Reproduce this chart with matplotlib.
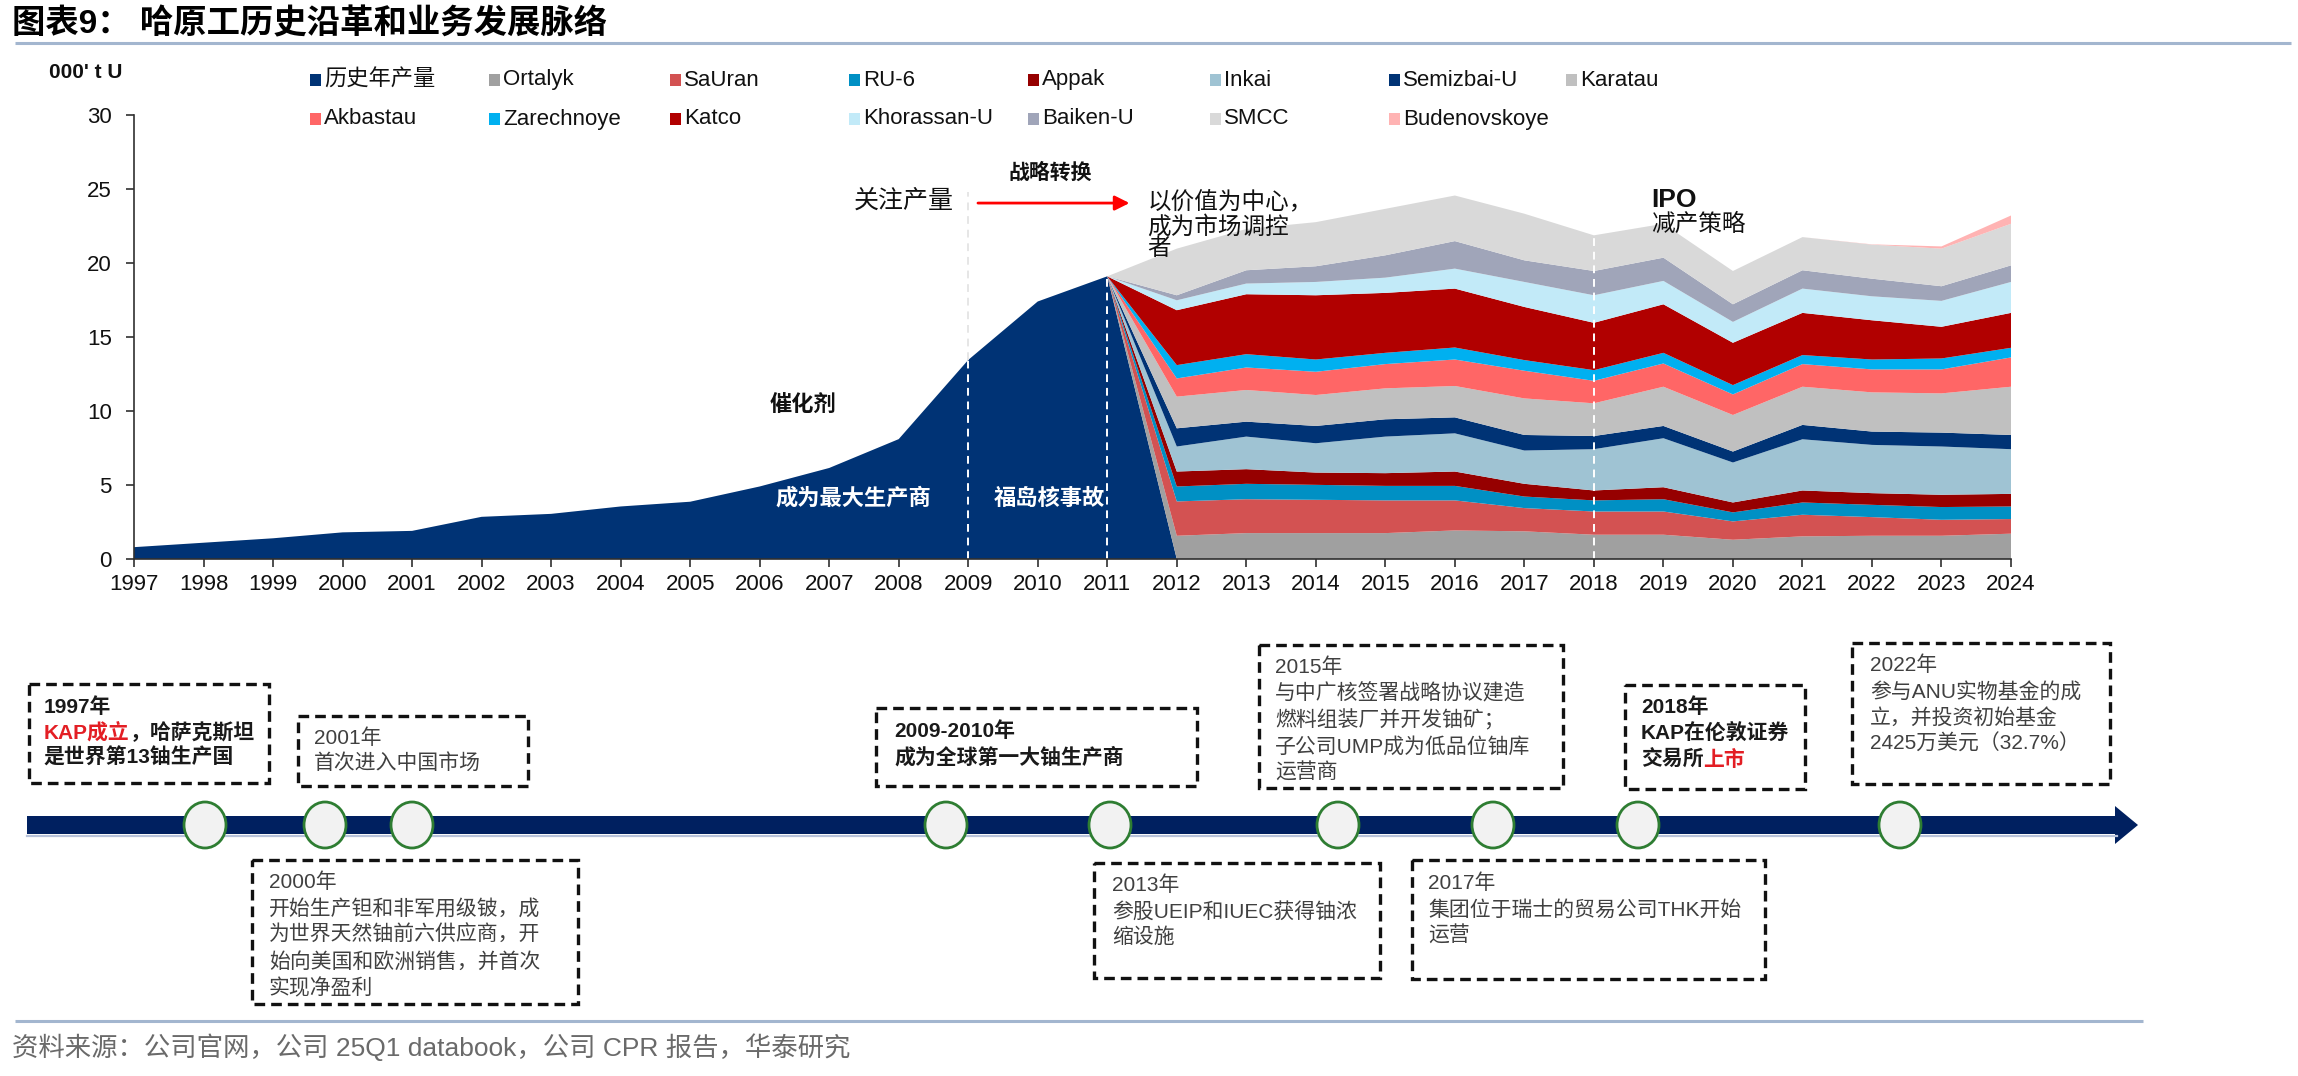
import matplotlib
matplotlib.use('Agg')
import matplotlib.pyplot as plt
from matplotlib.patches import Rectangle, Ellipse, Polygon

plt.rcParams['font.family'] = ['Liberation Sans', 'Noto Sans CJK SC', 'DejaVu Sans']

# ---------------- data ----------------
hist_years = list(range(1997, 2012))
hist_production = [0.8, 1.1, 1.4, 1.8, 1.9, 2.85, 3.05, 3.55, 3.87, 4.9, 6.15, 8.1, 13.45, 17.4, 19.1]
mine_years = list(range(2012, 2025))
ortalyk = [1.57, 1.75, 1.75, 1.75, 1.93, 1.87, 1.64, 1.64, 1.30, 1.53, 1.57, 1.57, 1.71]
sauran = [2.32, 2.29, 2.25, 2.21, 2.03, 1.57, 1.57, 1.57, 1.24, 1.46, 1.26, 1.08, 0.99]
ru6 = [1.01, 1.04, 1.01, 0.98, 0.98, 0.78, 0.75, 0.83, 0.61, 0.83, 0.83, 0.86, 0.85]
appak = [1.01, 0.99, 0.83, 0.86, 0.97, 0.86, 0.67, 0.81, 0.67, 0.81, 0.79, 0.83, 0.85]
inkai = [1.69, 2.20, 1.98, 2.47, 2.58, 2.25, 2.79, 3.31, 2.70, 3.46, 3.26, 3.26, 3.02]
semizbai = [1.23, 1.01, 1.17, 1.17, 1.08, 1.05, 0.89, 0.83, 0.74, 0.97, 0.90, 0.94, 0.96]
karatau = [2.14, 2.14, 2.09, 2.09, 2.12, 2.47, 2.21, 2.65, 2.47, 2.58, 2.65, 2.65, 3.26]
akbastau = [1.23, 1.52, 1.57, 1.64, 1.79, 1.87, 1.52, 1.57, 1.39, 1.53, 1.55, 1.62, 1.98]
zarechnoye = [0.90, 0.90, 0.83, 0.76, 0.81, 0.72, 0.72, 0.72, 0.63, 0.61, 0.67, 0.74, 0.65]
katco = [3.71, 4.05, 4.34, 4.05, 3.98, 3.59, 3.20, 3.28, 2.86, 2.85, 2.65, 2.14, 2.36]
khorassan = [0.67, 0.72, 0.90, 1.03, 1.35, 1.69, 1.86, 1.58, 1.41, 1.64, 1.62, 1.75, 2.09]
baiken = [0.34, 0.90, 1.06, 1.51, 1.86, 1.46, 1.64, 1.57, 1.19, 1.24, 1.19, 0.99, 1.12]
smcc = [3.15, 2.79, 2.98, 3.14, 3.08, 3.15, 2.41, 2.29, 2.25, 2.24, 2.30, 2.54, 2.81]
budenovskoye = [0, 0, 0, 0, 0, 0, 0, 0, 0, 0, 0.02, 0.15, 0.56]

series_names = ['历史年产量', 'Ortalyk', 'SaUran', 'RU-6', 'Appak', 'Inkai', 'Semizbai-U', 'Karatau',
                'Akbastau', 'Zarechnoye', 'Katco', 'Khorassan-U', 'Baiken-U', 'SMCC', 'Budenovskoye']
series_colors = ['#003375', '#a0a0a0', '#d35252', '#0090c4', '#960000', '#9fc3d3', '#003375', '#c0c0c0',
                 '#ff6666', '#00b0f0', '#b10000', '#c2eaf8', '#a0a5b9', '#d9d9d9', '#ffb3b3']
mine_series = [ortalyk, sauran, ru6, appak, inkai, semizbai, karatau, akbastau,
               zarechnoye, katco, khorassan, baiken, smcc, budenovskoye]

x_ticks = list(range(1997, 2025))
y_ticks = [0, 5, 10, 15, 20, 25, 30]

# ---------------- figure ----------------
W, H = 2298, 1076
fig = plt.figure(figsize=(W / 100, H / 100), dpi=100)

years = hist_years + mine_years
hist_full = hist_production + [0] * len(mine_years)
stack = [hist_full] + [[0] * len(hist_years) + s for s in mine_series]

ax = fig.add_axes([134 / W, 1 - 559 / H, (2011 - 134) / W, (559 - 115) / H])
ax.stackplot(years, *stack, colors=series_colors, linewidth=0, edgecolor='none')
ax.set_xlim(1997, 2024)
ax.set_ylim(0, 30)
ax.set_xticks(x_ticks)
ax.set_yticks(y_ticks)
for s in ['top', 'right']:
    ax.spines[s].set_visible(False)
for s in ['left', 'bottom']:
    ax.spines[s].set_color('#303030')
    ax.spines[s].set_linewidth(1.2)
ax.tick_params(axis='both', labelsize=16, length=6, width=1.2, color='#303030', labelcolor='#111111')
ax.tick_params(axis='x', pad=5)
ax.tick_params(axis='y', pad=10)

# vertical dashed markers
dash = (0, (4, 3))
ax.plot([2009, 2009], [0, 13.45], color='white', lw=1.4, ls=dash)
ax.plot([2009, 2009], [13.45, 24.8], color='#e6e6e6', lw=1.4, ls=dash)
ax.plot([2011, 2011], [0, 19.1], color='white', lw=1.4, ls=dash)
ax.plot([2018, 2018], [0, 22.2], color='white', lw=1.4, ls=dash)

# chart annotations
ax.text(2006.63, 10.3, '催化剂', fontsize=16, fontweight='bold', ha='center', va='center', color='#111111')
ax.text(2007.35, 4.05, '成为最大生产商', fontsize=16, fontweight='bold', ha='center', va='center', color='white')
ax.text(2010.16, 4.05, '福岛核事故', fontsize=16, fontweight='bold', ha='center', va='center', color='white')
ax.text(2008.08, 24.2, '关注产量', fontsize=18, ha='center', va='center', color='#111111')
ax.text(2010.18, 26.1, '战略转换', fontsize=15, fontweight='bold', ha='center', va='center', color='#111111')
ax.annotate('', xy=(2011.32, 24.05), xytext=(2009.14, 24.05),
            arrowprops=dict(arrowstyle='-|>', color='#ff0000', lw=2, mutation_scale=22, shrinkA=0, shrinkB=0))
ax.text(2011.58, 24.05, '以价值为中心，', fontsize=17, ha='left', va='center', color='#111111')
ax.text(2011.58, 22.4, '成为市场调控', fontsize=17, ha='left', va='center', color='#111111')
ax.text(2011.58, 20.95, '者', fontsize=17, ha='left', va='center', color='#111111')
ax.text(2018.83, 24.25, 'IPO', fontsize=19, fontweight='bold', ha='left', va='center', color='#111111')
ax.text(2018.83, 22.6, '减产策略', fontsize=17, ha='left', va='center', color='#111111')

# ---------------- overlay (pixel coordinates) ----------------
ov = fig.add_axes([0, 0, 1, 1])
ov.set_xlim(0, W)
ov.set_ylim(H, 0)
ov.axis('off')

ov.text(12, 24, '图表9： 哈原工历史沿革和业务发展脉络', fontsize=24, fontweight='bold', va='center', ha='left',
        color='#000000')
ov.plot([15, 2291], [43, 43], color='#a3b6cf', lw=2.2, solid_capstyle='butt')
ov.plot([15, 2143], [1021, 1021], color='#a3b6cf', lw=2.2, solid_capstyle='butt')
ov.text(12, 1047, '资料来源：公司官网，公司 25Q1 databook，公司 CPR 报告，华泰研究', fontsize=19,
        va='center', ha='left', color='#6a6a6a')

ov.text(49, 72, "000' t U", fontsize=15, fontweight='bold', va='center', ha='left', color='#111111')

# legend (two rows)
col_x = [310, 489, 670, 849, 1028, 1210, 1389, 1566]
row_y = [80, 119]
for i, (name, col) in enumerate(zip(series_names, series_colors)):
    r, c = divmod(i, 8)
    x, y = col_x[c], row_y[r]
    ov.add_patch(Rectangle((x, y - 6), 11, 12, facecolor=col, edgecolor='none'))
    ov.text(x + 14, y, name, fontsize=16, va='center', ha='left', color='#111111')

# timeline bar
navy = '#002060'
ov.add_patch(Rectangle((27, 816), 2117 - 27, 18, facecolor=navy, edgecolor='none'))
ov.plot([27, 2117], [836, 836], color='#b7c2da', lw=1.6)
ov.add_patch(Polygon([(2115, 806), (2138, 825), (2115, 844)], closed=True, facecolor=navy, edgecolor='none'))
circle_x = [205, 325, 412, 946, 1110, 1338, 1493, 1638, 1900]
for cx in circle_x:
    ov.add_patch(Ellipse((cx, 825), 42, 46, facecolor='#f2f2f2', edgecolor='#2e7d32', lw=2, zorder=3))

# dashed boxes
boxes = [(29, 684, 240, 99), (298, 716, 230, 70), (252, 860, 326, 144), (876, 708, 321, 78),
         (1094, 863, 286, 115), (1259, 645, 304, 143), (1412, 860, 353, 119), (1625, 685, 180, 104),
         (1852, 643, 258, 141)]
for bx, by, bw, bh in boxes:
    ov.add_patch(Rectangle((bx, by), bw, bh, fill=False, edgecolor='#111111', lw=2.4,
                           ls=(0, (3.2, 1.8))))

K = '#1a1a1a'
G = '#404040'
R = '#e31e24'
renderer = fig.canvas.get_renderer()


def seg_line(x, y, segments, bold=False, size=15):
    cur = x
    for txt, colr in segments:
        t = ov.text(cur, y, txt, fontsize=size, fontweight='bold' if bold else 'normal',
                    va='center', ha='left', color=colr)
        bb = t.get_window_extent(renderer=renderer)
        cur += bb.width


def block(x, ys, lines, bold=False, color=G):
    for y, ln in zip(ys, lines):
        if isinstance(ln, str):
            seg_line(x, y, [(ln, color)], bold)
        else:
            seg_line(x, y, ln, bold)


block(44, [707, 733, 758], ['1997年', [('KAP成立', R), ('，哈萨克斯坦', K)], '是世界第13铀生产国'], bold=True, color=K)
block(314, [738, 763], ['2001年', '首次进入中国市场'])
block(269, [882, 909, 935, 962, 988], ['2000年', '开始生产钽和非军用级铍，成', '为世界天然铀前六供应商，开',
                                       '始向美国和欧洲销售，并首次', '实现净盈利'])
block(894, [731, 757], ['2009-2010年', '成为全球第一大铀生产商'], bold=True, color=K)
block(1112, [885, 912, 937], ['2013年', '参股UEIP和IUEC获得铀浓', '缩设施'])
block(1275, [667, 693, 720, 747, 773], ['2015年', '与中广核签署战略协议建造', '燃料组装厂并开发铀矿；',
                                         '子公司UMP成为低品位铀库', '运营商'])
block(1428, [883, 910, 936], ['2017年', '集团位于瑞士的贸易公司THK开始', '运营'])
block(1641, [707, 733, 760], ['2018年', 'KAP在伦敦证券', [('交易所', K), ('上市', R)]], bold=True, color=K)
block(1870, [665, 692, 718, 744], ['2022年', '参与ANU实物基金的成', '立，并投资初始基金', '2425万美元（32.7%）'])

fig.savefig('out.png', dpi=100)
